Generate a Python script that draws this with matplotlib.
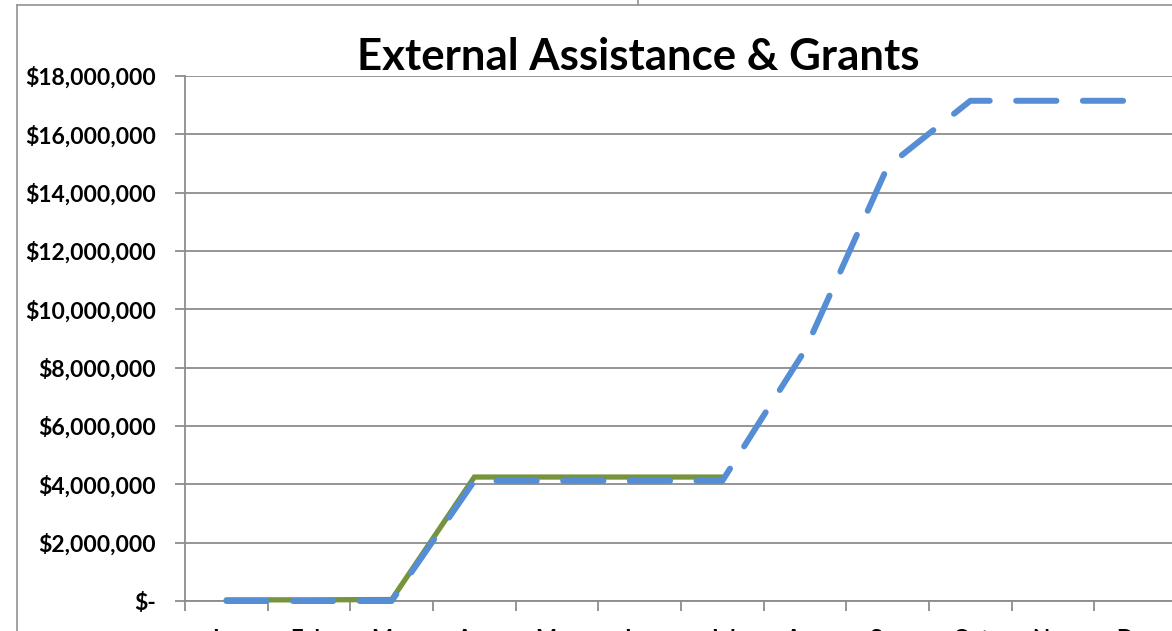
import matplotlib.pyplot as plt
from matplotlib.ticker import FuncFormatter
from matplotlib.lines import Line2D

plt.rcParams['font.family'] = ['Lato', 'DejaVu Sans']
plt.rcParams['lines.scale_dashes'] = False

months = ['Jan', 'Feb', 'Mar', 'Apr', 'May', 'Jun', 'Jul', 'Aug', 'Sep', 'Oct', 'Nov', 'Dec']
# cumulative amounts in dollars
projected = [0, 0, 0, 4.12e6, 4.12e6, 4.12e6, 4.12e6, 8.6e6, 14.9e6, 17.15e6, 17.15e6, 17.15e6]
actual = [0.04e6, 0.04e6, 0.05e6, 4.25e6, 4.25e6, 4.25e6, 4.25e6]

W, H = 1172, 631
fig = plt.figure(figsize=(W / 100, H / 100), dpi=100)
ax = fig.add_axes([185 / W, 30 / H, 992 / W, 525 / H])

grid_c = '#8c8c8c'
x = list(range(len(months)))
ax.plot(x[:len(actual)], actual, color='#77933C', lw=3.8, solid_capstyle='round',
        solid_joinstyle='miter', zorder=3, clip_on=False)
ax.plot(x, projected, color='#558ED5', lw=4.3, linestyle=(0, (29, 19)),
        dash_capstyle='round', dash_joinstyle='round', zorder=4, clip_on=False)

ax.set_xlim(-0.5, 11.5)
ax.set_ylim(0, 18e6)
ax.set_yticks([i * 2e6 for i in range(10)])
ax.yaxis.set_major_formatter(FuncFormatter(lambda v, p: '$-' if v == 0 else f'${v:,.0f}'))
ax.set_xticks([i - 0.5 for i in range(13)])
ax.set_xticklabels([])
ax.set_xticks(x, minor=True)
ax.set_xticklabels(months, minor=True, fontsize=16, fontweight='bold')
ax.tick_params(axis='x', which='minor', length=0, pad=20)
ax.tick_params(axis='x', which='major', length=7, width=1.3, color=grid_c, direction='out')
ax.tick_params(axis='y', length=7, width=1.3, color=grid_c, direction='out', pad=14,
               labelsize=16.5)
for lab in ax.get_yticklabels():
    lab.set_fontweight('bold')

ax.grid(axis='y', color=grid_c, lw=1.3)
ax.set_axisbelow(True)
for s in ['top', 'right']:
    ax.spines[s].set_visible(False)
for s in ['left', 'bottom']:
    ax.spines[s].set_color(grid_c)
    ax.spines[s].set_linewidth(1.3)

fig.text(638 / W, 1 - 57 / H, 'External Assistance & Grants', ha='center', va='center',
         fontsize=31.5, fontweight='bold')

# worksheet cell borders around the chart object
border = dict(color='#9a9a9a', lw=1.3, transform=fig.transFigure)
fig.add_artist(Line2D([17 / W, 17 / W], [0, 1 - 5 / H], **border))
fig.add_artist(Line2D([17 / W, 1], [1 - 5 / H, 1 - 5 / H], **border))
fig.add_artist(Line2D([638 / W, 638 / W], [1 - 5 / H, 1], **border))

fig.savefig('out.png', dpi=100, facecolor='white')
